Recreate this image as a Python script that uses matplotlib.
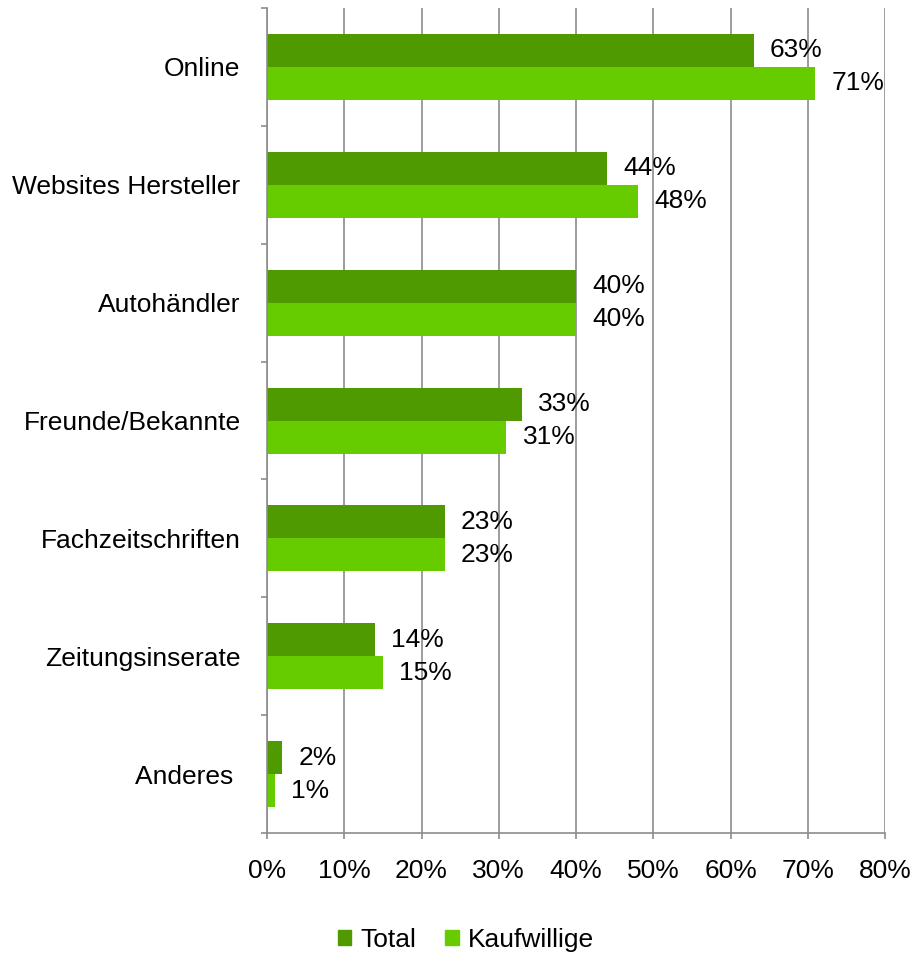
import numpy as np
import matplotlib.pyplot as plt
from matplotlib.patches import Patch

plt.rcParams['font.family'] = ['Liberation Sans', 'DejaVu Sans']

categories = ['Online', 'Websites Hersteller', 'Autohändler', 'Freunde/Bekannte',
              'Fachzeitschriften', 'Zeitungsinserate', 'Anderes ']
total = [63, 44, 40, 33, 23, 14, 2]
kaufwillige = [71, 48, 40, 31, 23, 15, 1]
xticks = [0, 10, 20, 30, 40, 50, 60, 70, 80]

c_total = '#4e9a00'
c_kauf = '#66cc00'
grey = '#8c8c8c'

fig = plt.figure(figsize=(9.14, 9.56), dpi=100)
ax = fig.add_axes([267 / 914, 1 - 833 / 956, 618 / 914, 825 / 956])

y = np.arange(len(categories))
h = 0.28
ax.barh(y - h / 2, total, height=h, color=c_total, zorder=3)
ax.barh(y + h / 2, kaufwillige, height=h, color=c_kauf, zorder=3)

fs = 19
for yi, v in zip(y - h / 2, total):
    ax.text(v + 2.1, yi, f'{v}%', va='center', ha='left', fontsize=fs)
for yi, v in zip(y + h / 2, kaufwillige):
    ax.text(v + 2.1, yi, f'{v}%', va='center', ha='left', fontsize=fs)

ax.set_xlim(0, 80)
ax.set_ylim(len(categories) - 0.5, -0.5)
ax.set_xticks(xticks)
ax.set_xticklabels([f'{t}%' for t in xticks], fontsize=fs)
ax.set_yticks(y)
ax.set_yticklabels(categories, fontsize=fs)
ax.set_yticks(np.arange(-0.5, len(categories)), minor=True)
ax.tick_params(axis='y', which='major', length=0, pad=19)
ax.tick_params(axis='y', which='minor', length=4.5, color=grey, width=1.2, direction='out')
ax.tick_params(axis='x', length=4.5, color=grey, width=1.2, pad=14)

ax.grid(axis='x', color=grey, linewidth=1.2, zorder=0)
for s in ['top', 'right']:
    ax.spines[s].set_visible(False)
for s in ['left', 'bottom']:
    ax.spines[s].set_color(grey)
    ax.spines[s].set_linewidth(1.2)
    ax.spines[s].set_zorder(4)

handles = [Patch(color=c_total, label='Total'), Patch(color=c_kauf, label='Kaufwillige')]
fig.legend(handles=handles, loc='center', bbox_to_anchor=(466 / 914, 1 - 940 / 956),
           ncol=2, frameon=False, fontsize=fs, handlelength=0.5, handleheight=0.5,
           handletextpad=0.35, columnspacing=1.1)

fig.savefig('out.png', dpi=100)
